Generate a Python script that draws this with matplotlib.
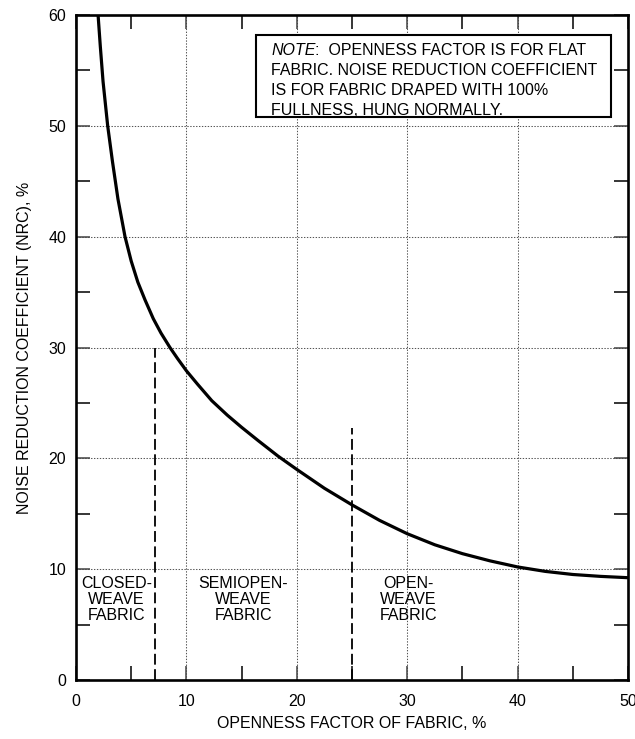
import matplotlib
matplotlib.use("Agg")
import matplotlib.pyplot as plt
from matplotlib.ticker import MultipleLocator

plt.rcParams['font.family'] = ['Liberation Sans', 'DejaVu Sans']

# Curve data (openness factor %, NRC %)
openness = [2.0, 2.2, 2.45, 2.87, 3.3, 3.8, 4.44, 5.0, 5.6, 6.25, 7.0, 7.7, 8.51, 9.2,
            10.0, 11.0, 12.3, 13.7, 15.0, 16.5, 18.3, 20.0, 22.5, 25.0, 27.5, 30.0,
            32.5, 35.0, 37.5, 40.0, 42.5, 45.0, 47.5, 50.0]
nrc = [60.0, 57.2, 54.0, 50.0, 46.8, 43.4, 40.0, 37.8, 35.9, 34.3, 32.6, 31.3, 30.0, 29.0,
       27.9, 26.7, 25.2, 23.9, 22.8, 21.6, 20.2, 19.0, 17.3, 15.8, 14.4, 13.2,
       12.2, 11.4, 10.75, 10.2, 9.8, 9.52, 9.35, 9.23]

# Dividers between fabric classes
divider_x = [7.2, 25]
divider_top = [30, 22.7]

region_labels = [["CLOSED-", "WEAVE", "FABRIC"],
                 ["SEMIOPEN-", "WEAVE", "FABRIC"],
                 ["OPEN-", "WEAVE", "FABRIC"]]
region_x = [3.68, 15.15, 30.1]

note_lines = ["FABRIC. NOISE REDUCTION COEFFICIENT",
              "IS FOR FABRIC DRAPED WITH 100%",
              "FULLNESS, HUNG NORMALLY."]

FS = 11.5
W, H = 635, 739
L, R, T, B = 76, 628, 15, 680

fig = plt.figure(figsize=(W/100, H/100), dpi=100)
ax = fig.add_axes([L/W, 1-B/H, (R-L)/W, (B-T)/H])
ax.set_xlim(0, 50)
ax.set_ylim(0, 60)

def px2x(px):
    return (px - L) / (R - L) * 50

def py2y(py):
    return (B - py) / (B - T) * 60

# grid
for gx in [10, 20, 30, 40]:
    ax.plot([gx, gx], [0, 60], color='#555555', lw=0.75, ls=(0, (1.3, 1.5)), zorder=1)
for gy in [10, 20, 30, 40, 50]:
    ax.plot([0, 50], [gy, gy], color='#555555', lw=0.75, ls=(0, (1.3, 1.5)), zorder=1)

ax.plot(openness, nrc, color='black', lw=2.3, zorder=3, solid_capstyle='butt',
        solid_joinstyle='round')

for dx, dt in zip(divider_x, divider_top):
    ax.plot([dx, dx], [0, dt], color='black', lw=1.3, ls=(0, (6, 2.5)), zorder=3)

region_py = [583, 600, 616]
for lines, lx in zip(region_labels, region_x):
    for line, py in zip(lines, region_py):
        ax.text(lx, py2y(py), line, ha='center', va='center', fontsize=FS, zorder=4)

ax.xaxis.set_major_locator(MultipleLocator(10))
ax.xaxis.set_minor_locator(MultipleLocator(5))
ax.yaxis.set_major_locator(MultipleLocator(10))
ax.yaxis.set_minor_locator(MultipleLocator(5))
ax.tick_params(which='both', direction='in', top=True, right=True, labelsize=FS)
ax.tick_params(which='major', length=10, width=1.1, color='#444444')
ax.tick_params(which='minor', length=10, width=1.1, color='black')
ax.tick_params(axis='x', which='major', pad=10)
ax.tick_params(axis='y', which='major', pad=7)
for s in ax.spines.values():
    s.set_linewidth(1.9)

ax.set_xlabel("OPENNESS FACTOR OF FABRIC, %", fontsize=FS, labelpad=5)
ax.set_ylabel("NOISE REDUCTION COEFFICIENT (NRC), %", fontsize=FS, labelpad=12)

# Note box
rect = plt.Rectangle((px2x(256), py2y(117)), px2x(611) - px2x(256), py2y(35) - py2y(117),
                     facecolor='white', edgecolor='black', lw=1.5, zorder=5)
ax.add_patch(rect)
tx = px2x(271)
t1 = ax.text(tx, py2y(55), "NOTE", style='italic', fontsize=FS, va='baseline',
             ha='left', zorder=6)
fig.canvas.draw()
bb = t1.get_window_extent()
x_after = ax.transData.inverted().transform((bb.x1, bb.y0))[0]
ax.text(x_after, py2y(55), ":  OPENNESS FACTOR IS FOR FLAT", fontsize=FS,
        va='baseline', ha='left', zorder=6)
for i, line in enumerate(note_lines):
    ax.text(tx, py2y(75 + 20 * i), line, fontsize=FS, va='baseline', ha='left', zorder=6)

fig.savefig("out.png", dpi=100)
